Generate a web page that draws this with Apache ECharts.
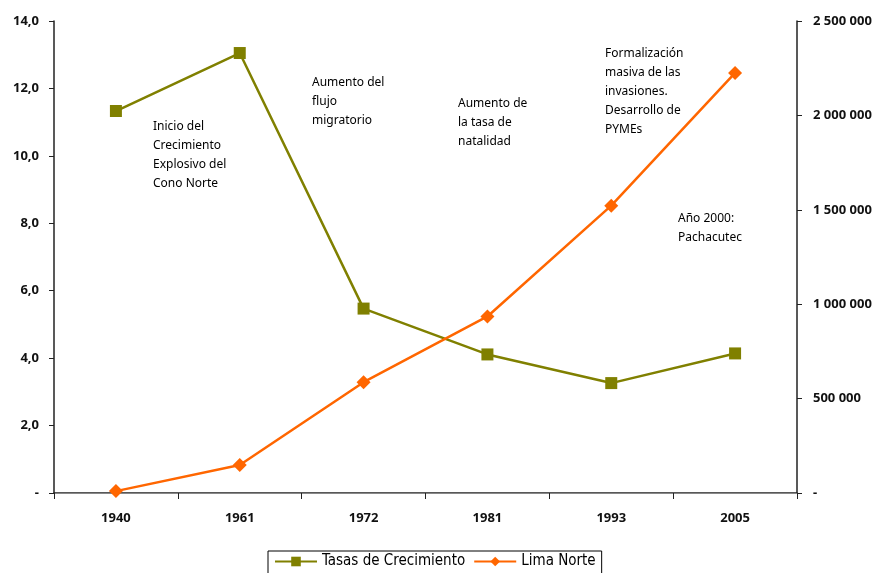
<!DOCTYPE html>
<html>
<head>
<meta charset="utf-8">
<script src="https://cdn.jsdelivr.net/npm/echarts@6/dist/echarts.min.js"></script>
<style>html,body{margin:0;padding:0;background:#fff}#c{width:881px;height:573px}</style>
</head>
<body>
<div id="c"></div>
<script>
const categories = ['1940', '1961', '1972', '1981', '1993', '2005'];
const tasasCrecimiento = [11.33, 13.05, 5.47, 4.11, 3.26, 4.14];
const limaNorte = [10000, 148000, 587000, 935000, 1522000, 2225000];
const leftTicks = { min: 0, max: 14, interval: 2 };
const rightTicks = { min: 0, max: 2500000, interval: 500000 };
const annotations = [
  { text: 'Inicio del\nCrecimiento\nExplosivo del\nCono Norte', left: 153, top: 117 },
  { text: 'Aumento del\nflujo\nmigratorio', left: 312, top: 73 },
  { text: 'Aumento de\nla tasa de\nnatalidad', left: 458, top: 94 },
  { text: 'Formalización\nmasiva de las\ninvasiones.\nDesarrollo de\nPYMEs', left: 605, top: 44 },
  { text: 'Año 2000:\nPachacutec', left: 678, top: 209 }
];

const chart = echarts.init(document.getElementById('c'));
const tickFont = { fontFamily: 'Noto Sans', fontSize: 13, fontWeight: 'bold', color: '#111' };
chart.setOption({
  animation: false,
  grid: { left: 54, right: 84, top: 21, bottom: 80 },
  legend: {
    bottom: -2, left: 268,
    padding: [3, 6, 6, 6],
    borderColor: '#000', borderWidth: 1,
    itemWidth: 42, itemHeight: 12, itemGap: 8,
    textStyle: { fontFamily: '"DejaVu Sans Condensed", "Liberation Sans Narrow", Roboto, sans-serif', fontSize: 15, color: '#000' },
    data: ['Tasas de Crecimiento', 'Lima Norte']
  },
  xAxis: [{
    type: 'category', data: categories, boundaryGap: true,
    axisLine: { lineStyle: { color: '#222', width: 1.5 } },
    axisTick: { show: true, length: 6, lineStyle: { color: '#222' } },
    axisLabel: Object.assign({ margin: 19 }, tickFont)
  }, {
    type: 'category', data: categories, position: 'top',
    axisLine: { show: true, lineStyle: { color: '#888', width: 1 } },
    axisTick: { show: false }, axisLabel: { show: false }
  }],
  yAxis: [{
    type: 'value', min: leftTicks.min, max: leftTicks.max, interval: leftTicks.interval,
    axisLine: { show: true, lineStyle: { color: '#222', width: 1.5 } },
    axisTick: { show: true, length: 5, lineStyle: { color: '#222' } },
    splitLine: { show: false },
    axisLabel: Object.assign({ margin: 15, formatter: v => v === 0 ? '-' : v.toFixed(1).replace('.', ',') }, tickFont)
  }, {
    type: 'value', min: rightTicks.min, max: rightTicks.max, interval: rightTicks.interval,
    position: 'right',
    axisLine: { show: true, lineStyle: { color: '#222', width: 1.5 } },
    axisTick: { show: true, length: 5, lineStyle: { color: '#222' } },
    splitLine: { show: false },
    axisLabel: Object.assign({ margin: 16, formatter: v => v === 0 ? '-' : String(v).replace(/\B(?=(\d{3})+(?!\d))/g, ' ') }, tickFont)
  }],
  series: [{
    name: 'Tasas de Crecimiento', type: 'line', data: tasasCrecimiento,
    xAxisIndex: 0, yAxisIndex: 0,
    symbol: 'rect', symbolSize: 12,
    itemStyle: { color: '#808000' },
    lineStyle: { color: '#808000', width: 2.5 }
  }, {
    name: 'Lima Norte', type: 'line', data: limaNorte,
    xAxisIndex: 0, yAxisIndex: 1,
    symbol: 'diamond', symbolSize: 14,
    itemStyle: { color: '#FF6600' },
    lineStyle: { color: '#FF6600', width: 2.5 }
  }],
  graphic: annotations.map(a => ({
    type: 'text', left: a.left, top: a.top,
    style: { text: a.text, fontFamily: 'Noto Sans', fontSize: 12, lineHeight: 19, fill: '#000' }
  }))
});
</script>
</body>
</html>
